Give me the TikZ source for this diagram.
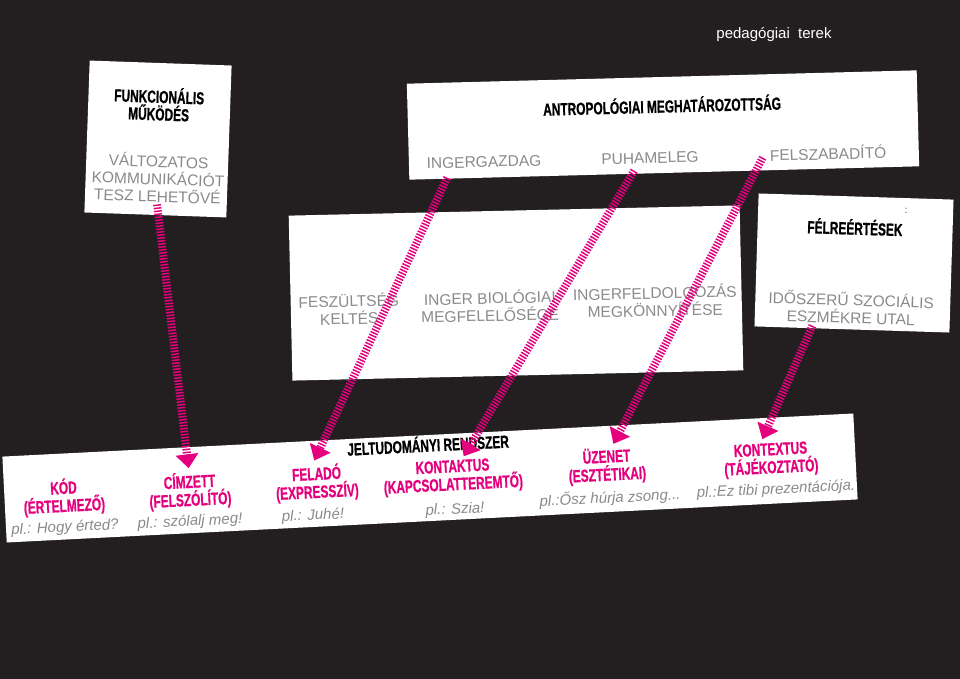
\documentclass[tikz,border=0pt]{standalone}
\usepackage{fontspec}
\setmainfont{Liberation Sans}
\newfontfamily\condfont[FakeStretch=0.68,FakeBold=0.7]{Liberation Sans}
\usepackage{tikz}
\usetikzlibrary{arrows.meta,positioning}
\usepackage{xcolor}
\definecolor{bgdark}{HTML}{231F20}
\definecolor{signpink}{HTML}{E5007E}
\definecolor{txtgray}{HTML}{8A8A8A}

\tikzset{
  cardbox/.style={fill=white, draw=none, inner sep=0pt},
  greytext/.style={text=txtgray, align=center, inner sep=2pt,
    font=\fontsize{15.5}{17.5}\selectfont},
  titletext/.style={text=black, align=center, inner sep=1pt,
    font=\condfont\bfseries\fontsize{17.5}{17.5}\selectfont},
  signlabel/.style={titletext, text=signpink,
    font=\condfont\bfseries\fontsize{17.5}{18}\selectfont},
  sample/.style={text=txtgray, inner sep=1pt,
    font=\itshape\fontsize{15}{17}\selectfont},
  hatch/.style={draw=signpink, line width=8pt, dash pattern=on 1.5pt off 1.5pt,
    -{Triangle[width=22pt,length=14pt,sep=3pt]}}
}

\begin{document}
\begin{tikzpicture}[x=1pt,y=-1pt]
\fill[bgdark] (0,0) rectangle (960,679);
\useasboundingbox (0,0) rectangle (960,679);

\node[text=white, font=\fontsize{15}{17}\selectfont] (pedterek) at (774,35) {pedagógiai\ \ terek};

% white cards
\node[cardbox, minimum width=142pt, minimum height=152pt, rotate=-2] (funkbox) at (158,139) {};
\node[cardbox, minimum width=510pt, minimum height=96pt, rotate=1.5] (antrobox) at (663,125) {};
\node[cardbox, minimum width=451pt, minimum height=165pt, rotate=1.3] (midbox) at (516,293) {};
\node[cardbox, minimum width=195pt, minimum height=133pt, rotate=-1.8] (felrebox) at (854,263) {};
\node[cardbox, minimum width=852pt, minimum height=86pt, rotate=2.9] (jelbox) at (430,478) {};

% funkcionalis mukodes
\node[titletext, rotate=-2] (funk) at (159,104) {FUNKCIONÁLIS\\MŰKÖDÉS};
\node[greytext, rotate=-2] (valt) at (158,178) {VÁLTOZATOS\\KOMMUNIKÁCIÓT\\TESZ LEHETŐVÉ};

% antropologiai meghatarozottsag
\node[titletext, rotate=1.5] (antro) at (662,105) {ANTROPOLÓGIAI MEGHATÁROZOTTSÁG};
\node[greytext, rotate=1.5] (ingergazdag) at (484,162) {INGERGAZDAG};
\node[greytext, rotate=1.5] (puhameleg) at (650,158) {PUHAMELEG};
\node[greytext, rotate=1.5] (felszab) at (828,153) {FELSZABADÍTÓ};

\node[greytext, rotate=1.3] (feszult) at (349,309) {FESZÜLTSÉG\\KELTÉS};
\node[greytext, rotate=1.3] (inger) at (490,306) {INGER BIOLÓGIAI\\MEGFELELŐSÉGE};
\node[greytext, rotate=1.3] (ingerfeld) at (655,301) {INGERFELDOLGOZÁS\\MEGKÖNNYÍTÉSE};

% felreertesek
\node[text=black!70, font=\fontsize{10}{11}\selectfont, rotate=-1.8] (colon) at (906,211) {:};
\node[titletext, rotate=-1.8] (felre) at (855,227) {FÉLREÉRTÉSEK};
\node[greytext, rotate=-1.8] (idoszeru) at (851,308) {IDŐSZERŰ SZOCIÁLIS\\ESZMÉKRE UTAL};

% jeltudomanyi rendszer
\node[titletext, rotate=2.9] (jel) at (428,444) {JELTUDOMÁNYI RENDSZER};
\node[signlabel, rotate=2.9] (kod) at (64,497) {KÓD\\(ÉRTELMEZŐ)};
\node[sample, rotate=2.9] (kodpl) at (65,528) {pl.: Hogy érted?};
\node[signlabel, rotate=2.9] (cimzett) at (190,491) {CÍMZETT\\(FELSZÓLÍTÓ)};
\node[sample, rotate=2.9] (cimzettpl) at (190,522) {pl.: szólalj meg!};
\node[signlabel, rotate=2.9] (felado) at (317,483) {FELADÓ\\(EXPRESSZÍV)};
\node[sample, rotate=2.9] (feladopl) at (313,516) {pl.: Juhé!};
\node[signlabel, rotate=2.9] (kontaktus) at (453,477) {KONTAKTUS\\(KAPCSOLATTEREMTŐ)};
\node[sample, rotate=2.9] (kontaktuspl) at (455,510) {pl.: Szia!};
\node[signlabel, rotate=2.9] (uzenet) at (607,466) {ÜZENET\\(ESZTÉTIKAI)};
\node[sample, rotate=2.9] (uzenetpl) at (610,498) {pl.:Ősz húrja zsong...};
\node[signlabel, rotate=2.9] (kontextus) at (771,460) {KONTEXTUS\\(TÁJÉKOZTATÓ)};
\node[sample, rotate=2.9] (kontextuspl) at (776,490) {pl.:Ez tibi prezentációja.};

% hatched arrows
\draw[hatch] (valt.south) -- (cimzett.north);
\draw[hatch] ([xshift=-37pt,yshift=-8pt]ingergazdag.south) -- ([xshift=-3pt]felado.north);
\draw[hatch] ([xshift=-16pt,yshift=-5pt]puhameleg.south) -- ([xshift=10pt]kontaktus.north);
\draw[hatch] ([xshift=-5pt,yshift=-3pt]felszab.west) -- ([xshift=6pt]uzenet.north);
\draw[hatch] ([xshift=-38pt]idoszeru.south) -- ([xshift=-9pt]kontextus.north);
\end{tikzpicture}
\end{document}
